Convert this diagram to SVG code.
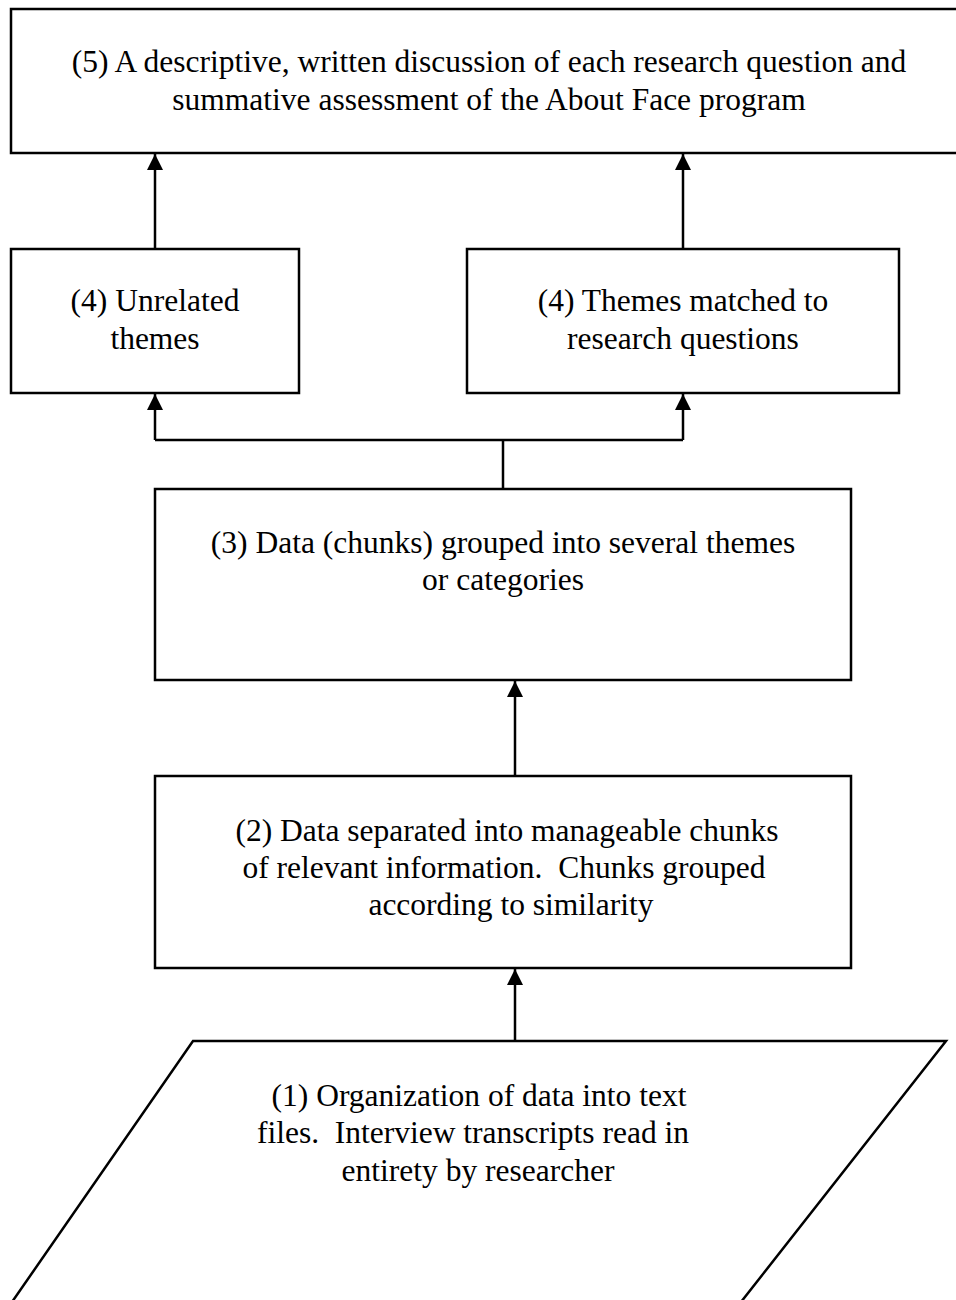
<svg xmlns="http://www.w3.org/2000/svg" width="956" height="1300" viewBox="0 0 956 1300">
<style>
.box{fill:#fff;stroke:#000;stroke-width:2.5}
.t{font-family:"Liberation Serif","Times New Roman",serif;font-size:31.5px;fill:#000;text-anchor:middle;white-space:pre}
.c{fill:none;stroke:#000;stroke-width:2.5}
</style>
<defs>
<marker id="ah" markerUnits="userSpaceOnUse" markerWidth="18" markerHeight="18" viewBox="0 0 18 18" refX="16" refY="9" orient="auto">
<path d="M0,1 L16,9 L0,17 Z" fill="#000"/>
</marker>
</defs>
<rect width="956" height="1300" fill="#fff"/>
<g id="n5">
<rect class="box" x="11" y="9" width="950" height="144"/>
<text class="t" x="489" y="72">(5) A descriptive, written discussion of each research question and</text>
<text class="t" x="489" y="110">summative assessment of the About Face program</text>
</g>
<g id="n4a">
<rect class="box" x="11" y="249" width="288" height="144"/>
<text class="t" x="155" y="311">(4) Unrelated</text>
<text class="t" x="155" y="349">themes</text>
</g>
<g id="n4b">
<rect class="box" x="467" y="249" width="432" height="144"/>
<text class="t" x="683" y="311">(4) Themes matched to</text>
<text class="t" x="683" y="349">research questions</text>
</g>
<g id="n3">
<rect class="box" x="155" y="489" width="696" height="191"/>
<text class="t" x="503" y="553">(3) Data (chunks) grouped into several themes</text>
<text class="t" x="503" y="590">or categories</text>
</g>
<g id="n2">
<rect class="box" x="155" y="776" width="696" height="192"/>
<text class="t" x="507" y="841">(2) Data separated into manageable chunks</text>
<text class="t" x="504" y="878">of relevant information.  Chunks grouped</text>
<text class="t" x="511" y="915">according to similarity</text>
</g>
<g id="n1">
<path class="box" d="M193,1041 L946,1041 L741,1302 L12,1302 Z"/>
<text class="t" x="479" y="1106">(1) Organization of data into text</text>
<text class="t" x="473" y="1143">files.  Interview transcripts read in</text>
<text class="t" x="478" y="1181">entirety by researcher</text>
</g>
<g id="connectors">
<line class="c" x1="155" y1="249" x2="155" y2="154" marker-end="url(#ah)"/>
<line class="c" x1="683" y1="249" x2="683" y2="154" marker-end="url(#ah)"/>
<polyline class="c" points="503,489 503,440"/>
<polyline class="c" points="155,440 683,440"/>
<line class="c" x1="155" y1="440" x2="155" y2="394" marker-end="url(#ah)"/>
<line class="c" x1="683" y1="440" x2="683" y2="394" marker-end="url(#ah)"/>
<line class="c" x1="515" y1="776" x2="515" y2="681" marker-end="url(#ah)"/>
<line class="c" x1="515" y1="1041" x2="515" y2="969" marker-end="url(#ah)"/>
</g>
</svg>
